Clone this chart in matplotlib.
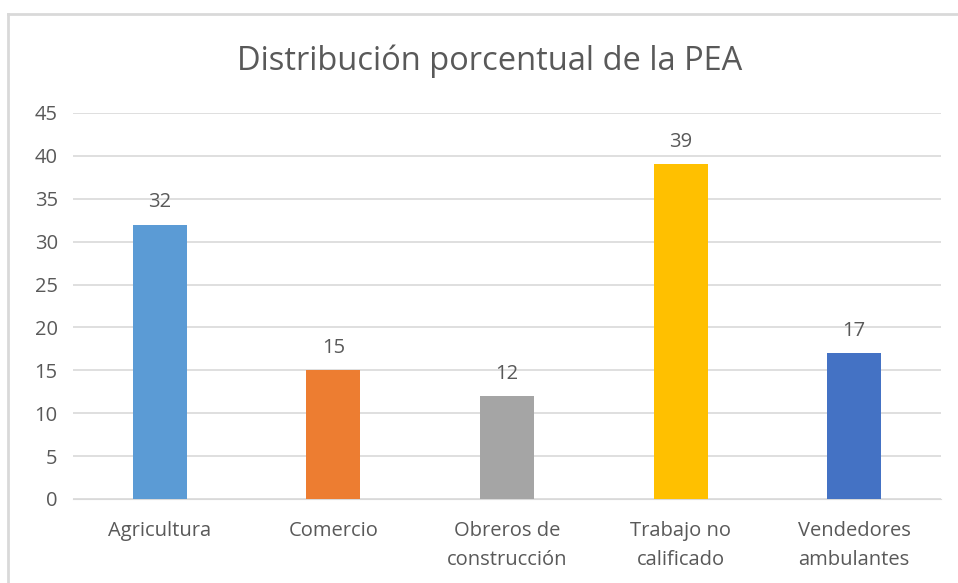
import matplotlib.pyplot as plt
from matplotlib.lines import Line2D

categorias = ["Agricultura", "Comercio", "Obreros de\nconstrucción",
              "Trabajo no\ncalificado", "Vendedores\nambulantes"]
valores = [32, 15, 12, 39, 17]
colores = ["#5B9BD5", "#ED7D31", "#A5A5A5", "#FFC000", "#4472C4"]
yticks = list(range(0, 50, 5))

plt.rcParams['font.family'] = ['Open Sans', 'DejaVu Sans']
gris = "#595959"

fig = plt.figure(figsize=(9.58, 5.83), dpi=100)
ax = fig.add_axes([73 / 958, 84 / 583, 868 / 958, 386 / 583])

x = list(range(len(categorias)))
barras = ax.bar(x, valores, width=0.31, color=colores, zorder=3)
for b, v in zip(barras, valores):
    ax.annotate(str(v), (b.get_x() + b.get_width() / 2, v), xytext=(0, 9),
                textcoords="offset points", ha="center", va="bottom",
                fontsize=14.5, color=gris)

ax.set_xlim(-0.5, len(categorias) - 0.5)
ax.set_ylim(0, 45)
ax.set_yticks(yticks)
ax.set_xticks(x)
ax.set_xticklabels(categorias, fontsize=14.5, color=gris, linespacing=1.6)
ax.tick_params(axis="y", labelsize=14.5, labelcolor=gris, length=0, pad=11)
ax.tick_params(axis="x", length=0, pad=16)
ax.grid(axis="y", color="#D9D9D9", linewidth=1.2, zorder=0)
for s in ax.spines.values():
    s.set_visible(False)
ax.spines["bottom"].set_visible(True)
ax.spines["bottom"].set_color("#D9D9D9")

fig.text(490 / 958, 1 - 61 / 583, "Distribución porcentual de la PEA",
         ha="center", va="center", fontsize=23.5, color=gris)

# borde del área del gráfico
fig.add_artist(Line2D([8 / 958, 1], [1 - 14 / 583] * 2, color="#D9D9D9", lw=2))
fig.add_artist(Line2D([8 / 958] * 2, [0, 1 - 14 / 583], color="#D9D9D9", lw=2))

fig.savefig("out.png", dpi=100)
